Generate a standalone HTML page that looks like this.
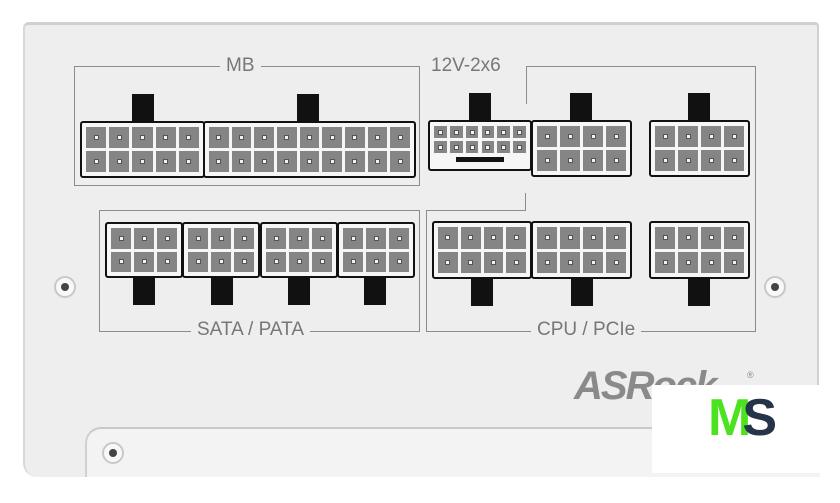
<!DOCTYPE html>
<html><head><meta charset="utf-8"><style>
body{margin:0;width:840px;height:503px;background:#fff;position:relative;overflow:hidden;font-family:"Liberation Sans",sans-serif}
div{position:absolute;box-sizing:border-box}
.panel{left:23px;top:22px;width:796px;height:455px;background:#eeeeee;border-top:3px solid #d0d0d0;border-left:2px solid #d8d8d8;border-right:2px solid #d0d0d0;border-radius:6px 4px 0 14px}
.strip{left:85px;top:427px;width:735px;height:50px;background:#f3f3f3;border-top:2px solid #c9c9c9;border-left:2px solid #d0d0d0;border-radius:16px 0 0 0}
.ln{background:#8c8c8c}
.lbl{color:#777;font-size:19px;background:#eeeeee;padding:0 6px;line-height:20px}
.conn{background:#f6f6f6;border:2px solid #111;border-radius:3px}
.pin{background:#858585}
.pin::after{content:"";position:absolute;left:50%;top:50%;width:5px;height:5px;margin:-2.5px;background:#f2f2f2;border:1px solid #555;box-sizing:border-box}
.tab{background:#111}
.screw{width:22px;height:22px;border-radius:50%;background:#f8f8f8;border:2px solid #c8c8c8}
.screw::after{content:"";position:absolute;left:5px;top:5px;width:8px;height:8px;border-radius:50%;background:#444}
</style></head><body>
<div class="panel"></div>
<div class="strip"></div>
<!-- MB box -->
<div class="ln" style="left:74px;top:66px;width:346px;height:1px"></div>
<div class="ln" style="left:74px;top:66px;width:1px;height:120px"></div>
<div class="ln" style="left:419px;top:66px;width:1px;height:120px"></div>
<div class="ln" style="left:74px;top:185px;width:346px;height:1px"></div>
<div class="lbl" style="left:220px;top:56px">MB</div>
<div class="lbl" style="left:427px;top:56px;padding:0 4px">12V-2x6</div>
<!-- CPU box -->
<div class="ln" style="left:526px;top:66px;width:230px;height:1px"></div>
<div class="ln" style="left:526px;top:66px;width:1px;height:38px"></div>
<div class="ln" style="left:755px;top:66px;width:1px;height:266px"></div>
<div class="ln" style="left:525px;top:193px;width:1px;height:17px"></div>
<div class="ln" style="left:426px;top:210px;width:100px;height:1px"></div>
<div class="ln" style="left:426px;top:210px;width:1px;height:122px"></div>
<div class="ln" style="left:426px;top:331px;width:330px;height:1px"></div>
<div class="lbl" style="left:531px;top:320px">CPU / PCIe</div>
<!-- SATA box -->
<div class="ln" style="left:99px;top:210px;width:321px;height:1px"></div>
<div class="ln" style="left:99px;top:210px;width:1px;height:122px"></div>
<div class="ln" style="left:419px;top:210px;width:1px;height:122px"></div>
<div class="ln" style="left:99px;top:331px;width:321px;height:1px"></div>
<div class="lbl" style="left:191px;top:320px">SATA / PATA</div>
<div id="c"></div>
<div class="screw" style="left:54px;top:276px"></div>
<div class="screw" style="left:764px;top:276px"></div>
<div class="screw" style="left:102px;top:442px"></div>
<div style="left:574px;top:364px;font-size:40px;font-weight:bold;font-style:italic;color:#8a8a8a;letter-spacing:-2px;line-height:44px">ASRock</div>
<div style="left:747px;top:370px;font-size:9px;color:#888">®</div>
<div style="left:652px;top:385px;width:168px;height:88px;background:#fff"></div>
<div style="left:708px;top:390px;font-size:52px;font-weight:bold;line-height:56px;letter-spacing:-9px"><span style="color:#4be31f">M</span><span style="color:#26344a">S</span></div>
<script>
var c=document.getElementById('c');
function d(cls,x,y,w,h){var e=document.createElement('div');e.className=cls;e.style.cssText='left:'+x+'px;top:'+y+'px;width:'+w+'px;height:'+h+'px';document.body.appendChild(e);return e;}
function conn(x,y,w,h,cols,rows,tx,tabTop,small){
 if(tabTop)d('tab',tx,y-27,22,29);else d('tab',tx,y+h-2,22,29);
 d('conn',x,y,w,h);
 var m=small?6:6,g=3,bh=small?12:0;
 var pw=(w-2*m-(cols-1)*g)/cols,ph=(h-2*m-bh-(rows-1)*g)/rows;
 for(var i=0;i<cols;i++)for(var j=0;j<rows;j++)d('pin',x+m+i*(pw+g),y+m+j*(ph+g),pw,ph);
 if(small)d('pin',x+28,y+h-14,48,5).className='tab';
}
conn(80,121,125,57,5,2,132,1);
conn(203,121,213,57,9,2,297,1);
conn(428,120,104,51,6,2,469,1,1);
conn(531,120,101,57,4,2,570,1);
conn(649,120,101,57,4,2,688,1);
conn(432,221,100,58,4,2,471,0);
conn(531,221,101,58,4,2,571,0);
conn(649,221,101,58,4,2,688,0);
[105,182,260,337].forEach(function(x,i){conn(x,222,78,56,3,2,[133,211,288,364][i],0);});
</script>
</body></html>
